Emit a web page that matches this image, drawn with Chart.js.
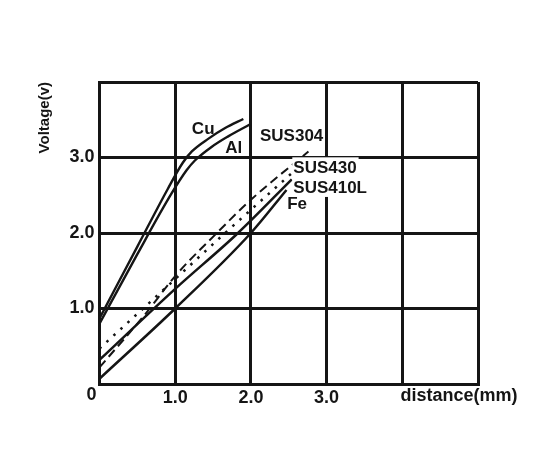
<!DOCTYPE html>
<html>
<head>
<meta charset="utf-8">
<script src="https://cdn.jsdelivr.net/npm/chart.js@4.4.1/dist/chart.umd.min.js"></script>
<style>
  html, body { margin: 0; padding: 0; background: #fff; }
  canvas { display: block; }
</style>
</head>
<body>
<canvas id="voltageChart" width="542" height="464"></canvas>
<script>
// Voltage vs distance
const cuX = [0, 0.5, 0.9, 1.1, 1.22, 1.44, 1.66, 1.9];
const cuY = [0.87, 1.82, 2.58, 2.93, 3.08, 3.25, 3.39, 3.51];

const alX = [0, 0.5, 0.95, 1.15, 1.26, 1.48, 1.7, 1.99];
const alY = [0.8, 1.72, 2.52, 2.83, 2.96, 3.14, 3.28, 3.44];

const sus304X = [0, 0.6, 1.0, 1.55, 2.0, 2.76];
const sus304Y = [0.22, 0.92, 1.43, 2.0, 2.44, 3.08];

const sus430X = [0, 1.0, 1.66, 2.56];
const sus430Y = [0.47, 1.39, 2.0, 2.81];

const sus410lX = [0, 1.0, 1.83, 2.54];
const sus410lY = [0.32, 1.26, 2.0, 2.71];

const feX = [0, 1.0, 2.0, 2.47];
const feY = [0.07, 1.0, 2.0, 2.57];

const xTicks = [0, 1, 2, 3, 4, 5];
const yTicks = [0, 1, 2, 3, 4];

// Curve names and where they sit (data units)
const curveLabels = [
  { text: 'Cu', x: 1.22, y: 3.39 },
  { text: 'Al', x: 1.66, y: 3.13 },
  { text: 'SUS304', x: 2.12, y: 3.29 },
  { text: 'SUS430', x: 2.56, y: 2.87, bg: true },
  { text: 'SUS410L', x: 2.56, y: 2.61, bg: true },
  { text: 'Fe', x: 2.48, y: 2.39, bg: true }
];

const INK = '#151515';
const FONT = '"Liberation Sans", Arial, Helvetica, sans-serif';

function points(xs, ys) {
  return xs.map((x, i) => ({ x: x, y: ys[i] }));
}

function series(label, xs, ys, dash, width) {
  return {
    label: label,
    data: points(xs, ys),
    borderColor: INK,
    borderWidth: width,
    borderDash: dash,
    pointRadius: 0,
    fill: false,
    cubicInterpolationMode: 'monotone'
  };
}

// Draws the curve names, the corner "0" and the x axis name
const labelPlugin = {
  id: 'curveLabels',
  afterDatasetsDraw(chart) {
    const { ctx, scales: { x, y } } = chart;
    ctx.save();
    ctx.font = 'bold 17px ' + FONT;
    ctx.textBaseline = 'middle';
    ctx.textAlign = 'left';
    curveLabels.forEach(l => {
      const px = x.getPixelForValue(l.x);
      const py = y.getPixelForValue(l.y);
      const w = ctx.measureText(l.text).width;
      if (l.bg) {
        ctx.fillStyle = '#fff';
        ctx.fillRect(px - 1, py - 10, w + 3, 20);
      }
      ctx.fillStyle = INK;
      ctx.fillText(l.text, px, py + 1);
    });

    ctx.font = 'bold 18px ' + FONT;
    ctx.textAlign = 'center';
    const baseY = y.getPixelForValue(0) + 11;
    ctx.fillText('0', x.getPixelForValue(0) - 8, baseY);
    ctx.fillText('distance(mm)', x.getPixelForValue(4.75), baseY + 1);
    ctx.restore();
  }
};

const ctx = document.getElementById('voltageChart').getContext('2d');
const voltageChart = new Chart(ctx, {
  type: 'line',
  data: {
    datasets: [
      series('Cu', cuX, cuY, [], 2.4),
      series('Al', alX, alY, [], 2.4),
      series('SUS304', sus304X, sus304Y, [9, 5], 2),
      series('SUS430', sus430X, sus430Y, [2.5, 7], 2.5),
      series('SUS410L', sus410lX, sus410lY, [], 2.5),
      series('Fe', feX, feY, [], 2.5)
    ]
  },
  options: {
    responsive: false,
    animation: false,
    layout: {
      padding: { top: 82, right: 64, bottom: 40, left: 0 }
    },
    plugins: {
      legend: { display: false },
      tooltip: { enabled: false }
    },
    scales: {
      x: {
        type: 'linear',
        min: xTicks[0],
        max: xTicks[xTicks.length - 1],
        afterBuildTicks: scale => { scale.ticks = xTicks.map(v => ({ value: v })); },
        afterFit: scale => { scale.height = 40; },
        grid: { color: INK, lineWidth: 3, drawTicks: false },
        border: { display: true, color: INK, width: 3 },
        ticks: {
          padding: 3,
          color: INK,
          font: { family: FONT, size: 18, weight: 'bold' },
          callback: v => (v >= 1 && v <= 3) ? v.toFixed(1) : ''
        }
      },
      y: {
        type: 'linear',
        min: yTicks[0],
        max: yTicks[yTicks.length - 1],
        afterBuildTicks: scale => { scale.ticks = yTicks.map(v => ({ value: v })); },
        afterFit: scale => { scale.width = 99.5; },
        grid: { color: INK, lineWidth: 3, drawTicks: false },
        border: { display: true, color: INK, width: 3 },
        ticks: {
          padding: 5,
          color: INK,
          font: { family: FONT, size: 18, weight: 'bold' },
          callback: v => (v >= 1 && v <= 3) ? v.toFixed(1) : ''
        },
        title: {
          display: true,
          text: 'Voltage(v)',
          align: 'end',
          color: INK,
          padding: { top: 36, bottom: 0 },
          font: { family: FONT, size: 15, weight: 'bold' }
        }
      }
    }
  },
  plugins: [labelPlugin]
});
</script>
</body>
</html>
